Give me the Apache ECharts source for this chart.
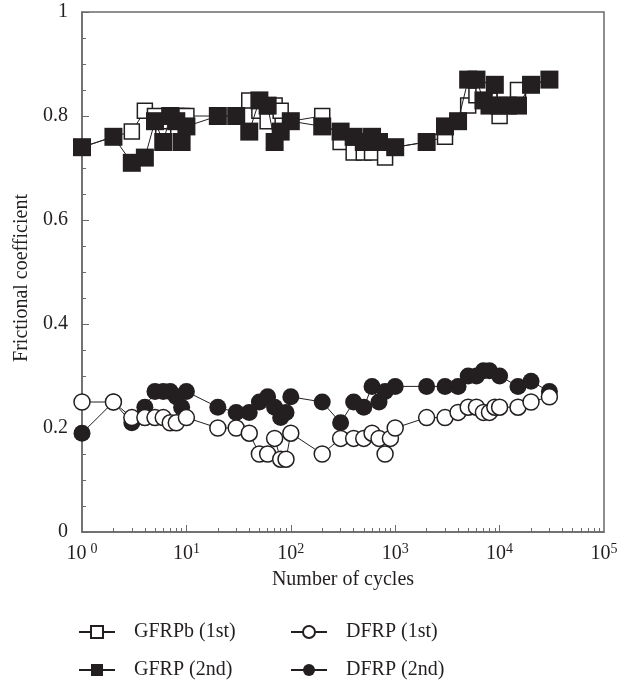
<!DOCTYPE html>
<html><head><meta charset="utf-8">
<script src="https://cdn.jsdelivr.net/npm/echarts@6/dist/echarts.min.js"></script>
<style>html,body{margin:0;padding:0;background:#fff}#c{width:627px;height:687px}</style>
</head><body><div id="c"></div>
<script>
const FONT = '"Liberation Serif", "Times New Roman", serif';

// Tick positions / labels
const xMajorTicks = [1, 10, 100, 1000, 10000, 100000];
const xTickExponents = ['0', '1', '2', '3', '4', '5'];
const xMinorTicks = [2,3,4,5,6,7,8,9,20,30,40,50,60,70,80,90,200,300,400,500,600,700,800,900,
  2000,3000,4000,5000,6000,7000,8000,9000,20000,30000,40000,50000,60000,70000,80000,90000];
const yTickLabels = ['0', '0.2', '0.4', '0.6', '0.8', '1'];

// Series names
const seriesNames = ['GFRPb (1st)', 'GFRP (2nd)', 'DFRP (1st)', 'DFRP (2nd)'];

// GFRPb (1st) - open squares
const gfrpbCycles = [1,2,3,4,5,6,7,8,9,10,20,30,40,50,60,70,80,100,200,300,400,500,600,800,1000,2000,3000,4000,5000,6000,7000,8000,10000,15000,20000,30000];
const gfrpbValues = [0.74,0.76,0.77,0.81,0.80,0.78,0.79,0.80,0.80,0.80,0.80,0.80,0.83,0.81,0.79,0.82,0.81,0.79,0.80,0.75,0.73,0.73,0.73,0.72,0.74,0.75,0.76,0.79,0.82,0.84,0.85,0.83,0.80,0.85,0.86,0.87];

// GFRP (2nd) - filled squares
const gfrpCycles = [1,2,3,4,5,6,7,8,9,10,20,30,40,50,60,70,80,100,200,300,400,500,600,700,1000,2000,3000,4000,5000,6000,7000,8000,9000,10000,12000,15000,20000,30000];
const gfrpValues = [0.74,0.76,0.71,0.72,0.79,0.75,0.80,0.79,0.75,0.78,0.80,0.80,0.77,0.83,0.82,0.75,0.77,0.79,0.78,0.77,0.76,0.75,0.76,0.75,0.74,0.75,0.78,0.79,0.87,0.87,0.83,0.82,0.86,0.82,0.82,0.82,0.86,0.87];

// DFRP (1st) - open circles
const dfrp1Cycles = [1,2,3,4,5,6,7,8,10,20,30,40,50,60,70,80,90,100,200,300,400,500,600,700,800,900,1000,2000,3000,4000,5000,6000,7000,8000,9000,10000,15000,20000,30000];
const dfrp1Values = [0.25,0.25,0.22,0.22,0.22,0.22,0.21,0.21,0.22,0.20,0.20,0.19,0.15,0.15,0.18,0.14,0.14,0.19,0.15,0.18,0.18,0.18,0.19,0.18,0.15,0.18,0.20,0.22,0.22,0.23,0.24,0.24,0.23,0.23,0.24,0.24,0.24,0.25,0.26];

// DFRP (2nd) - filled circles
const dfrp2Cycles = [1,2,3,4,5,6,7,8,9,10,20,30,40,50,60,70,80,90,100,200,300,400,500,600,700,800,1000,2000,3000,4000,5000,6000,7000,8000,10000,15000,20000,30000];
const dfrp2Values = [0.19,0.25,0.21,0.24,0.27,0.27,0.27,0.26,0.24,0.27,0.24,0.23,0.23,0.25,0.26,0.24,0.22,0.23,0.26,0.25,0.21,0.25,0.24,0.28,0.25,0.27,0.28,0.28,0.28,0.28,0.30,0.30,0.31,0.31,0.30,0.28,0.29,0.27];

const pair = (xs, ys) => xs.map((x, i) => [x, ys[i]]);
const INK = '#231f20';
const AXIS = '#6a6a6a';

const chart = echarts.init(document.getElementById('c'), null, {renderer: 'canvas'});

function mkSeries(name, xs, ys, symbol, size, filled, z) {
  return {
    name, type: 'line', data: pair(xs, ys), symbol, symbolSize: size, z,
    showAllSymbol: true, animation: false,
    lineStyle: {color: INK, width: 1},
    itemStyle: filled ? {color: INK, borderColor: INK, borderWidth: 0}
                      : {color: '#fff', borderColor: INK, borderWidth: 1.5},
    emphasis: {disabled: true}
  };
}

const legendText = {fontFamily: FONT, fontSize: 20, color: INK, padding: [0, 0, 0, 14]};
function mkLegend(name, left, top) {
  return {left, top, orient: 'horizontal', data: [name], itemWidth: 36, itemHeight: 15,
    textStyle: legendText, selectedMode: false, padding: 0};
}

chart.setOption({
  backgroundColor: '#fff',
  animation: false,
  grid: {left: 82, right: 23, top: 12, bottom: 155, show: true, borderColor: AXIS, borderWidth: 1.5, backgroundColor: 'transparent'},
  legend: [
    mkLegend(seriesNames[0], 78, 622),
    mkLegend(seriesNames[1], 78, 660),
    mkLegend(seriesNames[2], 290, 622),
    mkLegend(seriesNames[3], 290, 660)
  ],
  xAxis: [
    {
      type: 'log', logBase: 10, min: 1, max: 100000,
      name: 'Number of cycles', nameLocation: 'middle', nameGap: 38,
      nameTextStyle: {fontFamily: FONT, fontSize: 20, color: INK},
      axisLine: {show: true, lineStyle: {color: AXIS, width: 1.5}},
      axisTick: {show: true, inside: true, length: 7, lineStyle: {color: AXIS}, customValues: xMajorTicks.slice(1, 5)},
      splitLine: {show: false},
      axisLabel: {
        margin: 10, color: INK, fontFamily: FONT, fontSize: 20,
        customValues: xMajorTicks,
        formatter: function (v) {
          const i = xMajorTicks.indexOf(Math.round(v));
          const e = xTickExponents[i];
          return i === 0 ? '{b|10}{s0|' + e + '}' : '{b|10}{s|' + e + '}';
        },
        rich: {
          b: {fontFamily: FONT, fontSize: 20, color: INK},
          s: {fontFamily: FONT, fontSize: 14, color: INK, padding: [0, 0, 10, 0]},
          s0: {fontFamily: FONT, fontSize: 14, color: INK, padding: [0, 0, 10, 4]}
        }
      }
    },
    {
      type: 'log', logBase: 10, min: 1, max: 100000, position: 'bottom',
      axisLine: {show: false},
      axisTick: {show: true, inside: true, length: 4, lineStyle: {color: AXIS}, customValues: xMinorTicks},
      axisLabel: {show: false},
      splitLine: {show: false}
    }
  ],
  yAxis: {
    type: 'value', min: 0, max: 1, interval: 0.2,
    name: 'Frictional coefficient', nameLocation: 'middle', nameGap: 49,
    nameTextStyle: {fontFamily: FONT, fontSize: 20, color: INK, padding: [0, 12, 0, 0]},
    axisLine: {show: true, lineStyle: {color: AXIS, width: 1.5}},
    axisTick: {show: true, inside: true, length: 7, lineStyle: {color: AXIS}},
    minorTick: {show: true, splitNumber: 4, length: 4, lineStyle: {color: AXIS}},
    splitLine: {show: false},
    axisLabel: {margin: 14, color: INK, fontFamily: FONT, fontSize: 20,
      formatter: function (v) { return yTickLabels[Math.round(v / 0.2)]; }}
  },
  series: [
    mkSeries(seriesNames[0], gfrpbCycles, gfrpbValues, 'rect', 15, false, 2),
    mkSeries(seriesNames[1], gfrpCycles, gfrpValues, 'rect', 18, true, 3),
    mkSeries(seriesNames[3], dfrp2Cycles, dfrp2Values, 'circle', 17, true, 2),
    mkSeries(seriesNames[2], dfrp1Cycles, dfrp1Values, 'circle', 16, false, 3)
  ]
});
</script></body></html>
